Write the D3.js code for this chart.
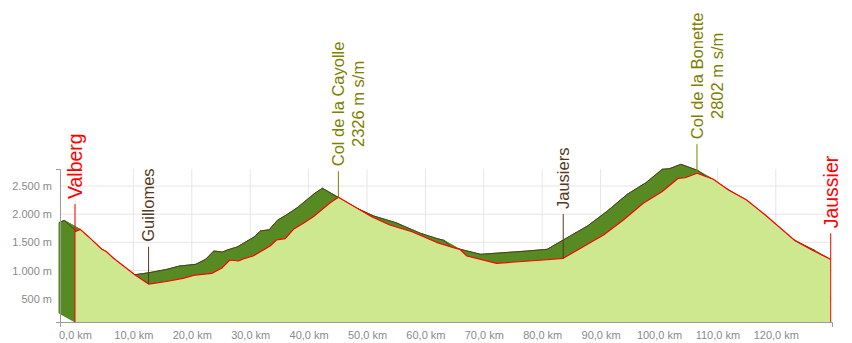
<!doctype html>
<html lang="en">
<head>
  <meta charset="utf-8">
  <title>Profile Valberg - Jaussier</title>
  <script src="https://cdn.jsdelivr.net/npm/d3@7"></script>
  <style>
    body { margin: 0; background: #fff; }
    svg { display: block; font-family: "Liberation Sans", Arial, sans-serif; }
  </style>
</head>
<body>
  <div id="profile"></div>
  <script>
    // Profile data (km from Valberg, altitude in m) ------------------------------------
    const kms = [0, 0.9, 2.3, 4.6, 5.4, 6.6, 10.3, 12.6, 15.4, 18.5, 20.6, 23.4, 25.1, 26.5, 28.0,
      28.8, 30.5, 33.4, 34.5, 36.0, 37.4, 39.1, 40.8, 43.7, 45.1, 50.8, 53.9, 57.7, 61.9, 64.8,
      65.9, 67.1, 72.2, 80.2, 83.6, 88.2, 90.5, 93.9, 97.3, 100.5, 103.3, 104.5, 106.5, 109.3,
      111.9, 115.0, 118.2, 123.3, 126.2, 129.0, 129.4];
    const elevs = [1690, 1730, 1600, 1376, 1333, 1216, 919, 759, 800, 861, 919, 949, 1038, 1186, 1168,
      1203, 1257, 1434, 1541, 1564, 1731, 1837, 1955, 2203, 2300, 1955, 1807, 1688, 1500, 1404,
      1376, 1257, 1127, 1186, 1216, 1493, 1630, 1896, 2193, 2399, 2637, 2647, 2726, 2619,
      2429, 2251, 1985, 1528, 1363, 1216, 1198];

    // Waypoints
    const wpNames = ["Valberg", "Guillomes", "Col de la Cayolle", "Jausiers", "Col de la Bonette", "Jaussier"];
    const wpSub = ["", "", "2326 m s/m", "", "2802 m s/m", ""];
    const wpKm = [0, 12.6, 45.1, 83.6, 106.5, 129.4];
    const wpKind = ["end", "town", "col", "town", "col", "end"];

    // Axis ticks
    const xTicks = [0, 10, 20, 30, 40, 50, 60, 70, 80, 90, 100, 110, 120];
    const yTicks = [500, 1000, 1500, 2000, 2500];

    // Canvas ---------------------------------------------------------------------------
    const width = 852;
    const height = 343;
    const plotLeft = 60, plotRight = 832, plotTop = 169, plotBottom = 322;
    const depth = { dx: -16, dy: -9 };

    const kindColor = { end: "#ff0000", town: "#553a1f", col: "#808000" };
    const kindFont = { end: 19.5, town: 16.5, col: 16.5 };

    const svg = d3.select("#profile")
      .append("svg")
      .attr("width", width)
      .attr("height", height)
      .attr("viewBox", [0, 0, width, height]);

    const x = d3.scaleLinear().domain([0, 129.4]).range([75, 830.7]);
    const y = d3.scaleLinear().domain([85, 2802]).range([plotBottom, plotTop]);

    // Grid -----------------------------------------------------------------------------
    svg.append("g")
      .selectAll("line")
      .data(yTicks)
      .join("line")
      .attr("x1", plotLeft).attr("x2", plotRight)
      .attr("y1", d => y(d)).attr("y2", d => y(d))
      .attr("stroke", "#e6e6e6");

    svg.append("g")
      .selectAll("line")
      .data(xTicks)
      .join("line")
      .attr("x1", d => x(d)).attr("x2", d => x(d))
      .attr("y1", plotTop).attr("y2", plotBottom)
      .attr("stroke", "#e6e6e6");

    // Profile --------------------------------------------------------------------------
    const pts = kms.map((k, i) => [x(k), y(elevs[i])]);
    const back = pts.map(p => [p[0] + depth.dx, p[1] + depth.dy]);
    const n = pts.length;

    // dark extrusion: side faces swept between front and back
    const quads = [];
    for (let i = 0; i < n - 1; i++) {
      quads.push([pts[i], pts[i + 1], back[i + 1], back[i]]);
    }
    quads.push([[pts[0][0], plotBottom], pts[0], back[0], [back[0][0], plotBottom + depth.dy]]);
    quads.push([[pts[0][0], plotBottom], [pts[n - 1][0], plotBottom],
      [back[n - 1][0], plotBottom + depth.dy], [back[0][0], plotBottom + depth.dy]]);

    const dark = svg.append("g").attr("fill", "#588a24").attr("stroke", "#588a24").attr("stroke-width", 0.6);
    dark.append("path")
      .attr("d", d3.area().x(d => d[0]).y0(plotBottom + depth.dy).y1(d => d[1])(back));
    dark.selectAll("path.q")
      .data(quads)
      .join("path")
      .attr("class", "q")
      .attr("d", d => "M" + d.join("L") + "Z");

    svg.append("path")
      .attr("d", d3.line()(back))
      .attr("fill", "none")
      .attr("stroke", "#4d3f24")
      .attr("stroke-width", 1);

    svg.append("path")
      .attr("d", d3.area().x(d => d[0]).y0(plotBottom).y1(d => d[1])(pts))
      .attr("fill", "#cee890");

    svg.append("path")
      .attr("d", d3.line()(pts))
      .attr("fill", "none")
      .attr("stroke", "#ff0000")
      .attr("stroke-width", 1.2)
      .attr("stroke-linejoin", "round");

    // Axes -----------------------------------------------------------------------------
    const fmtThousands = d3.formatLocale({ decimal: ",", thousands: ".", grouping: [3], currency: ["", ""] }).format(",");

    const yAxis = svg.append("g")
      .attr("transform", "translate(" + plotLeft + ",0)")
      .call(d3.axisLeft(y)
        .tickValues(yTicks)
        .tickSizeInner(0)
        .tickSizeOuter(4)
        .tickPadding(8)
        .tickFormat(d => fmtThousands(d) + " m"));

    const xAxisScale = d3.scaleLinear().domain([x.invert(plotLeft), x.invert(plotRight)]).range([plotLeft, plotRight]);
    const xAxis = svg.append("g")
      .attr("transform", "translate(0," + plotBottom + ")")
      .call(d3.axisBottom(xAxisScale)
        .tickValues(xTicks)
        .tickSizeInner(0)
        .tickSizeOuter(5)
        .tickPadding(9)
        .tickFormat(d => d.toFixed(1).replace(".", ",") + " km"));

    [yAxis, xAxis].forEach(a => {
      a.select(".domain").attr("stroke", "#9a9a9a");
      a.selectAll("text")
        .attr("fill", "#8a8a8a")
        .style("font-size", "11px")
        .style("font-family", "\"Liberation Sans\", Arial, sans-serif");
    });

    // Waypoints ------------------------------------------------------------------------
    function elevAt(k) {
      const i = d3.bisectRight(kms, k);
      if (i <= 0) return elevs[0];
      if (i >= n) return k <= kms[n - 1] + 1e-6 ? elevs[n - 1] : null;
      const t = (k - kms[i - 1]) / (kms[i] - kms[i - 1]);
      return elevs[i - 1] + t * (elevs[i] - elevs[i - 1]);
    }
    const pxPerKm = x(1) - x(0);

    wpNames.forEach((name, i) => {
      const k = wpKm[i];
      const kind = wpKind[i];
      const color = kindColor[kind];
      const lx = x(k);
      const fy = y(elevAt(Math.min(k, kms[n - 1])));
      const be = elevAt(k - depth.dx / pxPerKm);
      const topY = be == null ? fy : Math.min(fy, y(be) + depth.dy);
      const lineTop = topY - 26;
      const lineBottom = kind === "end" ? plotBottom : fy;

      svg.append("line")
        .attr("x1", lx).attr("x2", lx)
        .attr("y1", lineBottom).attr("y2", lineTop)
        .attr("stroke", color)
        .attr("stroke-width", 1);

      const g = svg.append("g")
        .attr("transform", "translate(" + lx + "," + (lineTop - 5) + ") rotate(-90)")
        .attr("fill", color)
        .style("font-size", kindFont[kind] + "px");

      const t1 = g.append("text")
        .attr("x", 0)
        .attr("dy", "0.35em")
        .text(name);

      if (wpSub[i]) {
        const w = t1.node().getComputedTextLength();
        g.append("text")
          .attr("x", w / 2)
          .attr("y", 20)
          .attr("dy", "0.35em")
          .attr("text-anchor", "middle")
          .text(wpSub[i]);
      }
    });
  </script>
</body>
</html>
